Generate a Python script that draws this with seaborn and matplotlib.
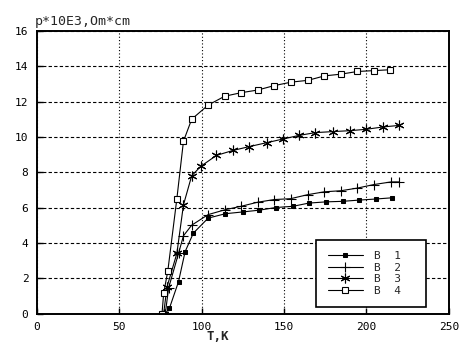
import pandas as pd
import seaborn as sns
import matplotlib.pyplot as plt

# Resistivity vs temperature
t_b1 = [78, 80.5, 86, 90, 95, 104, 114.5, 125, 135, 145, 155.5, 165, 175.5, 185.5, 195.5, 205.5, 215.5]
v_b1 = [0, 0.3, 1.8, 3.5, 4.55, 5.4, 5.65, 5.75, 5.85, 6.0, 6.07, 6.25, 6.32, 6.35, 6.42, 6.48, 6.55]

t_b2 = [78, 80, 86, 89, 94, 104, 114.5, 124, 134, 144, 154, 164.5, 174.5, 184.5, 194.5, 204.5, 215, 220]
v_b2 = [0, 1.45, 3.4, 4.4, 5.0, 5.6, 5.88, 6.07, 6.3, 6.45, 6.5, 6.73, 6.89, 6.95, 7.1, 7.3, 7.45, 7.45]

t_b3 = [77, 79, 85, 89, 94, 99.5, 109, 119, 129, 139.5, 149.5, 159, 169, 180, 190, 200, 210, 220]
v_b3 = [0, 1.5, 3.4, 6.15, 7.8, 8.33, 8.95, 9.23, 9.45, 9.67, 9.88, 10.08, 10.24, 10.3, 10.35, 10.43, 10.56, 10.65]

t_b4 = [76, 77, 79.5, 85, 89, 94, 104, 114, 124, 134, 144, 154.5, 164.5, 174.5, 184.5, 194.5, 204.5, 214.5]
v_b4 = [0, 1.15, 2.4, 6.5, 9.75, 11.0, 11.8, 12.3, 12.5, 12.65, 12.9, 13.1, 13.2, 13.45, 13.55, 13.7, 13.75, 13.8]

labels = ["B  1", "B  2", "B  3", "B  4"]
x_ticks = [0, 50, 100, 150, 200, 250]
y_ticks = [0, 2, 4, 6, 8, 10, 12, 14, 16]

sns.set_style("ticks")
plt.rcParams['font.family'] = ['DejaVu Sans Mono', 'DejaVu Sans']
plt.rcParams['font.size'] = 8

fig = plt.figure(figsize=(4.59, 3.43), dpi=100)
ax = fig.add_axes([0.080, 0.086, 0.898, 0.824])

series = [(t_b1, v_b1), (t_b2, v_b2), (t_b3, v_b3), (t_b4, v_b4)]
styles = [
    dict(marker='s', markersize=2.5, markerfacecolor='black', markeredgecolor='black'),
    dict(marker='+', markersize=7.5, markeredgewidth=0.8, markeredgecolor='black'),
    dict(marker=(6, 2, 0), markersize=7, markeredgewidth=0.8, markeredgecolor='black'),
    dict(marker='s', markersize=4.5, markerfacecolor='white', markeredgecolor='black', markeredgewidth=0.8),
]

for (t, v), lab, st in zip(series, labels, styles):
    df = pd.DataFrame({"T": t, "rho": v})
    sns.lineplot(data=df, x="T", y="rho", ax=ax, color='black', linewidth=0.8,
                 label=lab + "  ", sort=False, **st)

ax.set_xlim(0, 250)
ax.set_ylim(0, 16)
ax.set_xticks(x_ticks)
ax.set_yticks(y_ticks)
ax.set_xticklabels([str(x) for x in x_ticks], fontsize=8)
ax.set_yticklabels([str(y) for y in y_ticks], fontsize=8)
ax.tick_params(direction='in', length=4, width=1, colors='black', pad=6)

ax.grid(True, axis='x', color='black', linestyle=(0, (1, 2)), linewidth=0.8)
ax.grid(True, axis='y', color='black', linestyle=(0, (3, 2)), linewidth=0.8)
for s in ax.spines.values():
    s.set_linewidth(1.4)
    s.set_color('black')

ax.set_xlabel("T,K", fontsize=9, fontweight='bold', labelpad=-1)
ax.xaxis.label.set_x(0.44)
ax.set_ylabel("")
fig.text(0.076, 0.937, "p*10E3,Om*cm", fontsize=9.5, ha='left', va='center')

leg = ax.legend(loc='lower right', bbox_to_anchor=(0.944, 0.023), borderaxespad=0,
                frameon=True, fancybox=False, edgecolor='black', framealpha=1,
                fontsize=8, handlelength=3.2, handletextpad=1.0, borderpad=1.0,
                labelspacing=0.15)
leg.get_frame().set_linewidth(1.2)

fig.savefig("out.png", dpi=100)
